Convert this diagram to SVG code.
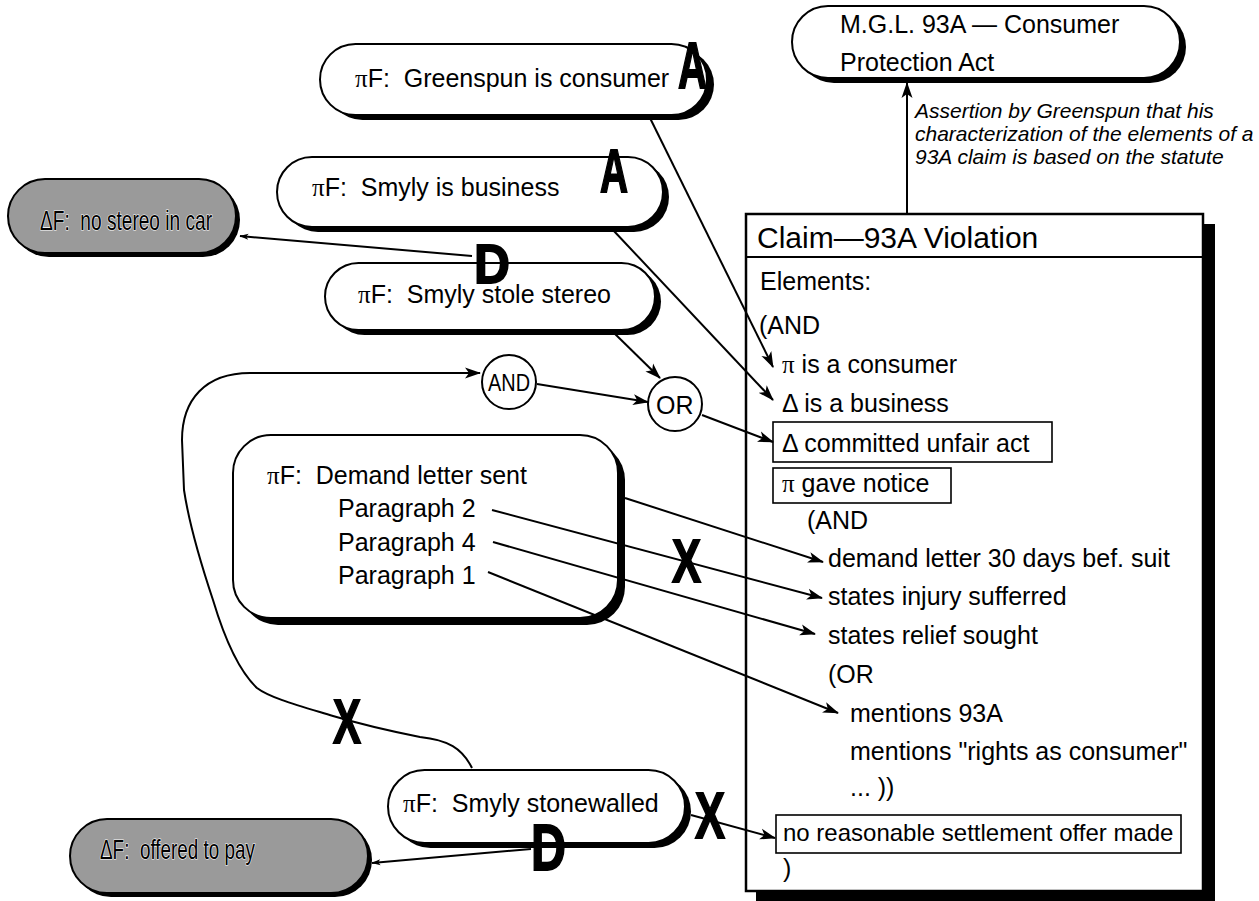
<svg xmlns="http://www.w3.org/2000/svg" width="1259" height="901" viewBox="0 0 1259 901" xml:space="preserve">
<style>
.t{font-family:"Liberation Sans",Arial,sans-serif;font-size:25px;fill:#000;white-space:pre}
.it{font-family:"Liberation Sans",Arial,sans-serif;font-style:italic;font-size:21px;fill:#000}
.pi{font-family:"Liberation Serif","Times New Roman",serif}
.big{font-family:"Liberation Sans",Arial,sans-serif;font-weight:bold;fill:#000;stroke:#000;stroke-width:1.8}
.gt{font-family:"Liberation Sans",Arial,sans-serif;font-size:28px;fill:#000;stroke:#fff;stroke-width:1.2;paint-order:stroke;white-space:pre}
.node{fill:#fff;stroke:#000;stroke-width:2}
.sh{fill:#000}
.grey{fill:#9a9a9a;stroke:#000;stroke-width:2}
.conn{fill:none;stroke:#000;stroke-width:2}
.box{fill:none;stroke:#000;stroke-width:1.6}
</style>
<defs>
<marker id="ah" viewBox="0 0 16 12" refX="15" refY="6" markerWidth="16" markerHeight="12" markerUnits="userSpaceOnUse" orient="auto">
<path d="M0,0.5 L16,6 L0,11.5 L4,6 z" fill="#000"/>
</marker>
<marker id="ahs" viewBox="0 0 16 12" refX="15" refY="6" markerWidth="9" markerHeight="7" markerUnits="userSpaceOnUse" orient="auto">
<path d="M0,0.5 L16,6 L0,11.5 L4,6 z" fill="#000"/>
</marker>
</defs>
<rect width="1259" height="901" fill="#fff"/>

<g id="mgl">
<rect class="sh" x="798" y="11" width="388" height="72" rx="36"/>
<rect class="node" x="792" y="6" width="388" height="72" rx="36"/>
<text class="t" x="840" y="33">M.G.L. 93A — Consumer</text>
<text class="t" x="840" y="71">Protection Act</text>
</g>

<g id="assertion-label">
<text class="it" x="915" y="118">Assertion by Greenspun that his</text>
<text class="it" x="915" y="141">characterization of the elements of a</text>
<text class="it" x="915" y="164">93A claim is based on the statute</text>
</g>

<g id="claim">
<rect class="sh" x="756" y="224" width="459" height="677"/>
<rect x="746" y="214" width="457" height="677" fill="#fff" stroke="#000" stroke-width="2.5"/>
<line x1="746" y1="257" x2="1203" y2="257" stroke="#000" stroke-width="2"/>
<text class="t" x="757" y="248" style="font-size:30px">Claim—93A Violation</text>
<text class="t" x="760" y="290">Elements:</text>
<text class="t" x="759" y="334">(AND</text>
<text class="t" x="782" y="373"><tspan class="pi">π</tspan> is a consumer</text>
<text class="t" x="782" y="412">Δ is a business</text>
<rect class="box" x="773" y="422" width="279" height="40"/>
<text class="t" x="782" y="452">Δ committed unfair act</text>
<rect class="box" x="773" y="468" width="178" height="35"/>
<text class="t" x="782" y="492"><tspan class="pi">π</tspan> gave notice</text>
<text class="t" x="807" y="529">(AND</text>
<text class="t" x="828" y="567">demand letter 30 days bef. suit</text>
<text class="t" x="828" y="605">states injury sufferred</text>
<text class="t" x="828" y="644">states relief sought</text>
<text class="t" x="828" y="683">(OR</text>
<text class="t" x="850" y="722">mentions 93A</text>
<text class="t" x="850" y="760">mentions "rights as consumer"</text>
<text class="t" x="850" y="796">... ))</text>
<rect class="box" x="776" y="815" width="405" height="38"/>
<text class="t" x="783" y="841" style="font-size:24px">no reasonable settlement offer made</text>
<text class="t" x="783" y="877">)</text>
</g>

<g id="greenspun">
<rect class="sh" x="327" y="49" width="387" height="71" rx="35.5"/>
<rect class="node" x="320" y="44" width="387" height="71" rx="35.5"/>
<text class="t" x="355" y="87"><tspan class="pi">π</tspan>F:  Greenspun is consumer</text>
</g>

<g id="business">
<rect class="sh" x="283" y="162" width="386" height="70" rx="35"/>
<rect class="node" x="277" y="157" width="386" height="70" rx="35"/>
<text class="t" x="312" y="196"><tspan class="pi">π</tspan>F:  Smyly is business</text>
</g>

<g id="no-stereo">
<rect class="sh" x="12" y="183" width="228" height="74" rx="37"/>
<rect class="grey" x="8" y="179" width="228" height="74" rx="37"/>
<text class="gt" x="40" y="230" textLength="172" lengthAdjust="spacingAndGlyphs">ΔF:  no stereo in car</text>
</g>

<g id="stole">
<rect class="sh" x="331" y="268" width="330" height="67" rx="33.5"/>
<rect class="node" x="325" y="263" width="330" height="67" rx="33.5"/>
<text class="t" x="358" y="303"><tspan class="pi">π</tspan>F:  Smyly stole stereo</text>
</g>

<g id="and-node">
<circle cx="509" cy="382" r="27" fill="#fff" stroke="#000" stroke-width="2"/>
<text class="t" x="488" y="391" style="font-size:24px" textLength="42" lengthAdjust="spacingAndGlyphs">AND</text>
</g>

<g id="or-node">
<circle cx="675" cy="404" r="27" fill="#fff" stroke="#000" stroke-width="2"/>
<text class="t" x="656" y="414">OR</text>
</g>

<g id="demand">
<rect class="sh" x="240" y="442" width="385" height="183" rx="38"/>
<rect class="node" x="233" y="435" width="385" height="183" rx="38"/>
<text class="t" x="267" y="484"><tspan class="pi">π</tspan>F:  Demand letter sent</text>
<text class="t" x="338" y="517">Paragraph 2</text>
<text class="t" x="338" y="551">Paragraph 4</text>
<text class="t" x="338" y="584">Paragraph 1</text>
</g>

<g id="stonewalled">
<rect class="sh" x="394" y="775" width="297" height="73" rx="36.5"/>
<rect class="node" x="388" y="770" width="297" height="73" rx="36.5"/>
<text class="t" x="403" y="812"><tspan class="pi">π</tspan>F:  Smyly stonewalled</text>
</g>

<g id="offered">
<rect class="sh" x="74" y="823" width="298" height="74" rx="37"/>
<rect class="grey" x="70" y="819" width="298" height="74" rx="37"/>
<text class="gt" x="100" y="859" textLength="155" lengthAdjust="spacingAndGlyphs">ΔF:  offered to pay</text>
</g>

<g id="connectors">
<line class="conn" x1="907" y1="214" x2="907" y2="83" marker-end="url(#ah)"/>
<line class="conn" x1="650" y1="118" x2="773" y2="367" marker-end="url(#ah)"/>
<line class="conn" x1="613" y1="230" x2="773" y2="400" marker-end="url(#ah)"/>
<line class="conn" x1="472" y1="256" x2="240" y2="236" marker-end="url(#ahs)"/>
<line class="conn" x1="612" y1="331" x2="660" y2="378" marker-end="url(#ah)"/>
<line class="conn" x1="537" y1="384" x2="648" y2="402" marker-end="url(#ah)"/>
<line class="conn" x1="702" y1="415" x2="773" y2="442" marker-end="url(#ah)"/>
<path class="conn" d="M472,768 C462,748 448,740 420,737 C390,731 360,724 333,716 C300,706 270,698 257,688 C240,672 225,640 213,600 C203,570 190,530 184,490 L182,440 C182,400 205,373 250,373 L480,373" marker-end="url(#ah)"/>
<line class="conn" x1="625" y1="498" x2="823" y2="562" marker-end="url(#ah)"/>
<line class="conn" x1="492" y1="510" x2="822" y2="598" marker-end="url(#ah)"/>
<line class="conn" x1="493" y1="542" x2="815" y2="634" marker-end="url(#ah)"/>
<line class="conn" x1="488" y1="572" x2="838" y2="713" marker-end="url(#ah)"/>
<line class="conn" x1="691" y1="815" x2="775" y2="838" marker-end="url(#ah)"/>
<line class="conn" x1="531" y1="849" x2="372" y2="863" marker-end="url(#ahs)"/>
</g>

<g id="labels">
<text class="big" x="678" y="88" font-size="64" textLength="29" lengthAdjust="spacingAndGlyphs">A</text>
<text class="big" x="600" y="192" font-size="61" textLength="28" lengthAdjust="spacingAndGlyphs">A</text>
<text class="big" x="474" y="283" font-size="56" textLength="36" lengthAdjust="spacingAndGlyphs">D</text>
<text class="big" x="672" y="582" font-size="61" textLength="29" lengthAdjust="spacingAndGlyphs">X</text>
<text class="big" x="333" y="743" font-size="63" textLength="28" lengthAdjust="spacingAndGlyphs">X</text>
<text class="big" x="695" y="838" font-size="64" textLength="30" lengthAdjust="spacingAndGlyphs">X</text>
<text class="big" x="531" y="870" font-size="64" textLength="35" lengthAdjust="spacingAndGlyphs">D</text>
</g>
</svg>
